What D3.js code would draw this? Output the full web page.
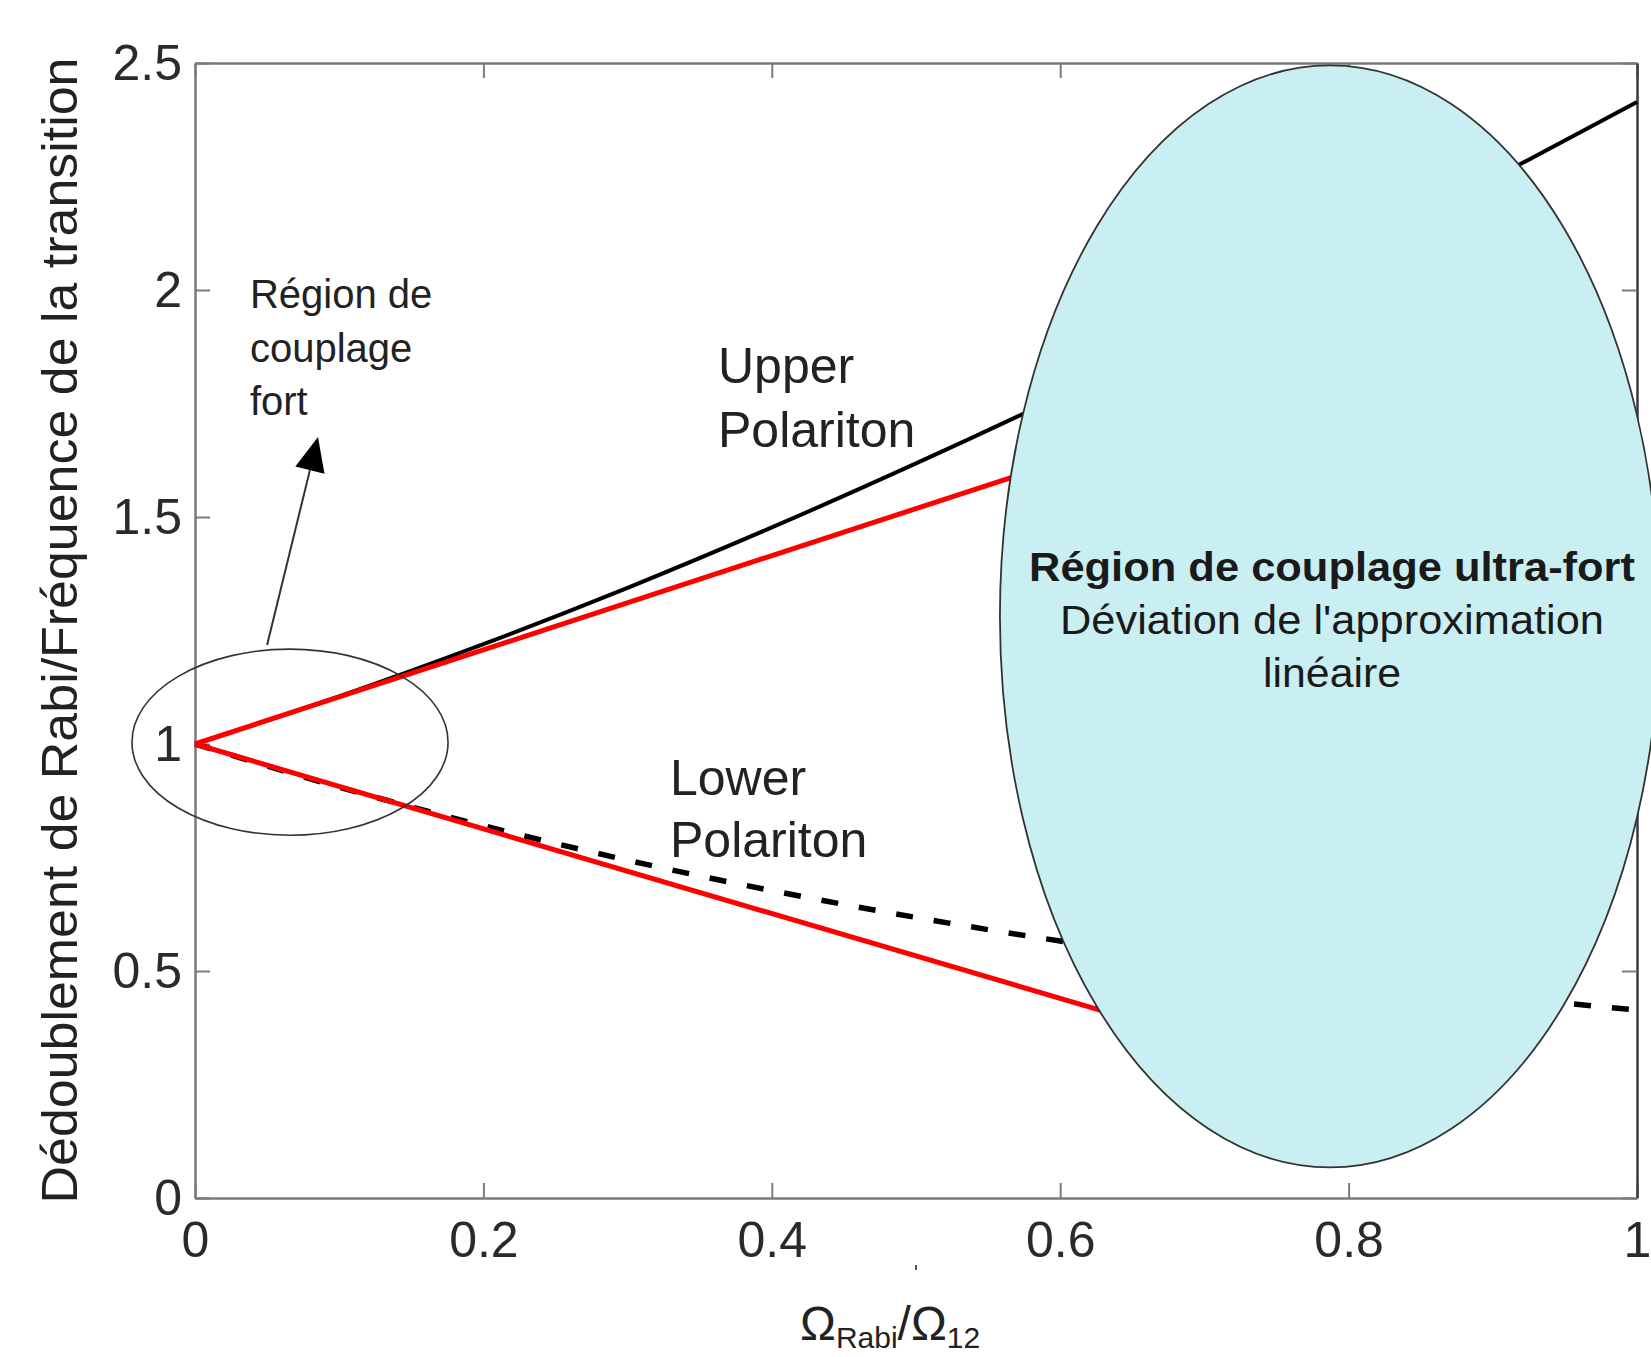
<!DOCTYPE html>
<html>
<head>
<meta charset="utf-8">
<script src="https://cdn.jsdelivr.net/npm/d3@7"></script>
<style>
  html, body { margin: 0; padding: 0; background: #fff; }
  svg { display: block; }
  text { font-family: "Liberation Sans", Arial, Helvetica, sans-serif; }
</style>
</head>
<body>
<div id="chart"></div>
<script>
// ---------- data ----------
const ratioX = [0, 0.1, 0.2, 0.3, 0.4, 0.5, 0.6, 0.7, 0.8, 0.9, 1.0];
const upperPolariton = [1.00, 1.105, 1.22, 1.344, 1.477, 1.618, 1.766, 1.921, 2.081, 2.245, 2.414];
const lowerPolariton = [1.00, 0.905, 0.82, 0.744, 0.677, 0.618, 0.566, 0.521, 0.481, 0.445, 0.414];
const linearUpperX = [0, 0.65];
const linearUpper = [1.00, 1.674];
const linearLowerX = [0, 0.65];
const linearLower = [1.00, 0.393];

const xTicks = [0, 0.2, 0.4, 0.6, 0.8, 1];
const xTickLabels = ["0", "0.2", "0.4", "0.6", "0.8", "1"];
const yTicks = [0, 0.5, 1, 1.5, 2, 2.5];
const yTickLabels = ["0", "0.5", "1", "1.5", "2", "2.5"];

const yAxisTitle = "Dédoublement de Rabi/Fréquence de la transition";
const strongLabel = ["Région de", "couplage", "fort"];
const upperLabel = ["Upper", "Polariton"];
const lowerLabel = ["Lower", "Polariton"];
const ultraLabel = ["Région de couplage ultra-fort", "Déviation de l'approximation", "linéaire"];

// ---------- layout ----------
const W = 1651, H = 1357;
const svg = d3.select("#chart").append("svg").attr("width", W).attr("height", H);

const x = d3.scaleLinear().domain([0, 1]).range([195, 1637]);
const y = d3.scaleLinear().domain([0, 2.5]).range([1198, 63]);

const axisColor = "#7a7a7a";
const FONT = 50;

// bottom axis
const gB = svg.append("g").attr("transform", `translate(0,${y(0)})`)
  .call(d3.axisBottom(x).tickValues(xTicks).tickFormat((d, i) => xTickLabels[i])
    .tickSizeInner(-15).tickSizeOuter(0).tickPadding(23));
// left axis
const gL = svg.append("g").attr("transform", `translate(${x(0)},0)`)
  .call(d3.axisLeft(y).tickValues(yTicks).tickFormat((d, i) => yTickLabels[i])
    .tickSizeInner(-15).tickSizeOuter(0).tickPadding(13));
// top axis
const gT = svg.append("g").attr("transform", `translate(0,${y(2.5)})`)
  .call(d3.axisTop(x).tickValues(xTicks).tickFormat("").tickSizeInner(-15).tickSizeOuter(0));
// right axis
const gR = svg.append("g").attr("transform", `translate(${x(1)},0)`)
  .call(d3.axisRight(y).tickValues(yTicks).tickFormat("").tickSizeInner(-15).tickSizeOuter(0));

[gB, gL, gT, gR].forEach(g => {
  g.attr("font-size", FONT).attr("font-family", "'Liberation Sans', Arial, sans-serif");
  g.selectAll(".domain").attr("stroke", axisColor).attr("stroke-width", 2.5);
  g.selectAll(".tick line").attr("stroke", axisColor).attr("stroke-width", 2);
  g.selectAll(".tick text").attr("fill", "#2a2a2a");
});
gR.select(".domain").attr("stroke", "#3a3a3a").attr("stroke-width", 2.5);

// ---------- curves ----------
const lineGen = d3.line().x(d => x(d[0])).y(d => y(d[1])).curve(d3.curveMonotoneX);

svg.append("path")
  .datum(ratioX.map((v, i) => [v, upperPolariton[i]]))
  .attr("d", lineGen).attr("fill", "none").attr("stroke", "#000").attr("stroke-width", 4);

svg.append("path")
  .datum(ratioX.map((v, i) => [v, lowerPolariton[i]]))
  .attr("d", lineGen).attr("fill", "none").attr("stroke", "#000").attr("stroke-width", 5.5)
  .attr("stroke-dasharray", "17 21");

svg.append("path")
  .datum(linearUpperX.map((v, i) => [v, linearUpper[i]]))
  .attr("d", lineGen).attr("fill", "none").attr("stroke", "#ff0000").attr("stroke-width", 5);

svg.append("path")
  .datum(linearLowerX.map((v, i) => [v, linearLower[i]]))
  .attr("d", lineGen).attr("fill", "none").attr("stroke", "#ff0000").attr("stroke-width", 5);

// ---------- annotations ----------
// small ellipse (strong coupling)
const sCx = 0.0659, sCy = 1.004, sRx = 0.1096, sRy = 0.205;
svg.append("ellipse")
  .attr("cx", x(sCx)).attr("cy", y(sCy))
  .attr("rx", x(sRx) - x(0)).attr("ry", y(0) - y(sRy))
  .attr("fill", "none").attr("stroke", "#333").attr("stroke-width", 1.6);

// arrow
const aFrom = [0.050, 1.218], aTo = [0.0853, 1.676];
const ax0 = x(aFrom[0]), ay0 = y(aFrom[1]), ax1 = x(aTo[0]), ay1 = y(aTo[1]);
const ang = Math.atan2(ay1 - ay0, ax1 - ax0);
const headLen = 34, headHalf = 15;
const bx = ax1 - headLen * Math.cos(ang), by = ay1 - headLen * Math.sin(ang);
svg.append("line").attr("x1", ax0).attr("y1", ay0).attr("x2", bx).attr("y2", by)
  .attr("stroke", "#333").attr("stroke-width", 2);
svg.append("path")
  .attr("d", `M${ax1},${ay1} L${bx + headHalf * Math.sin(ang)},${by - headHalf * Math.cos(ang)} L${bx - headHalf * Math.sin(ang)},${by + headHalf * Math.cos(ang)} Z`)
  .attr("fill", "#000");

// strong coupling label
const strongX = 0.0381, strongY = [1.960, 1.841, 1.725];
strongLabel.forEach((t, i) => {
  svg.append("text").attr("x", x(strongX)).attr("y", y(strongY[i]))
    .attr("font-size", 40).attr("fill", "#222").text(t);
});

// polariton labels
const upX = 0.3627, upY = [1.795, 1.654];
upperLabel.forEach((t, i) => {
  svg.append("text").attr("x", x(upX)).attr("y", y(upY[i]))
    .attr("font-size", 50).attr("fill", "#222").text(t);
});
const loX = 0.3294, loY = [0.888, 0.751];
lowerLabel.forEach((t, i) => {
  svg.append("text").attr("x", x(loX)).attr("y", y(loY[i]))
    .attr("font-size", 50).attr("fill", "#222").text(t);
});

// big ellipse (ultra-strong coupling)
const bCx = 0.787, bCy = 1.281, bRx = 0.2288, bRy = 1.2137;
svg.append("ellipse")
  .attr("cx", x(bCx)).attr("cy", y(bCy))
  .attr("rx", x(bRx) - x(0)).attr("ry", y(0) - y(bRy))
  .attr("fill", "#c9eff2").attr("stroke", "#333").attr("stroke-width", 1.8);

const ultraX = 0.7885, ultraY = [1.359, 1.242, 1.1256], ultraLen = [606, 544, 138];
ultraLabel.forEach((t, i) => {
  svg.append("text").attr("x", x(ultraX)).attr("y", y(ultraY[i]))
    .attr("text-anchor", "middle").attr("font-size", 41)
    .attr("font-weight", i === 0 ? "bold" : "normal")
    .attr("textLength", ultraLen[i]).attr("lengthAdjust", "spacingAndGlyphs")
    .attr("fill", "#1a1a1a").text(t);
});

// ---------- axis titles ----------
svg.append("text")
  .attr("transform", `translate(77,${(y(0) + y(2.5)) / 2}) rotate(-90)`)
  .attr("text-anchor", "middle").attr("font-size", 50).attr("fill", "#222")
  .attr("textLength", 1146).attr("lengthAdjust", "spacingAndGlyphs")
  .text(yAxisTitle);

const xt = svg.append("text").attr("x", 800).attr("y", 1340).attr("font-size", 48).attr("fill", "#222");
xt.append("tspan").text("Ω");
xt.append("tspan").attr("font-size", 30).attr("dy", 8).text("Rabi");
xt.append("tspan").attr("font-size", 48).attr("dy", -8).text("/Ω");
xt.append("tspan").attr("font-size", 30).attr("dy", 8).text("12");

// small stray mark below axis
svg.append("rect").attr("x", 915).attr("y", 1265).attr("width", 2).attr("height", 5).attr("fill", "#555");
</script>
</body>
</html>
